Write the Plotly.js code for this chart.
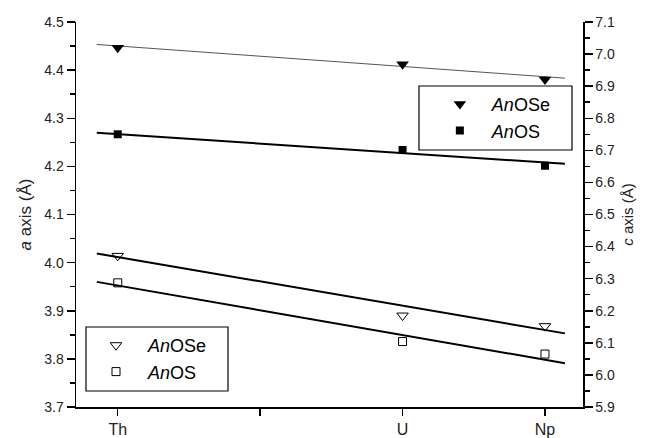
<!DOCTYPE html>
<html>
<head>
<meta charset="utf-8">
<script src="https://cdn.plot.ly/plotly-3.0.1.min.js"></script>
<style>html,body{margin:0;padding:0;background:#fff;}#chart{width:645px;height:438px;}</style>
</head>
<body>
<div id="chart"></div>
<script>
// element positions (atomic number) and tick labels
var tickPositions = [90, 91, 92, 93];
var tickLabels = ['Th', '', 'U', 'Np'];
var elementX = [90, 92, 93];

// c axis (Å) — filled symbols
var cAnOSe = [7.020, 6.968, 6.921];
var cAnOS = [6.750, 6.701, 6.652];
// a axis (Å) — open symbols
var aAnOSe = [4.014, 3.890, 3.868];
var aAnOS = [3.958, 3.836, 3.810];

// linear fit lines (end points)
var fitX = [89.853, 93.14];
var fitCAnOSe = [7.030, 6.925];
var fitCAnOS = [6.755, 6.658];
var fitAAnOSe = [4.019, 3.853];
var fitAAnOS = [3.960, 3.791];

var traces = [
  {x: fitX, y: fitCAnOSe, yaxis: 'y2', mode: 'lines', line: {color: '#555', width: 1}, showlegend: false, hoverinfo: 'skip'},
  {x: fitX, y: fitCAnOS, yaxis: 'y2', mode: 'lines', line: {color: '#000', width: 2}, showlegend: false, hoverinfo: 'skip'},
  {x: fitX, y: fitAAnOSe, yaxis: 'y', mode: 'lines', line: {color: '#000', width: 2}, showlegend: false, hoverinfo: 'skip'},
  {x: fitX, y: fitAAnOS, yaxis: 'y', mode: 'lines', line: {color: '#000', width: 2}, showlegend: false, hoverinfo: 'skip'},
  {x: elementX, y: cAnOSe, yaxis: 'y2', mode: 'markers', name: '<i>An</i>OSe', legend: 'legend',
   marker: {symbol: 'triangle-down', size: 11, color: '#000'}},
  {x: elementX, y: cAnOS, yaxis: 'y2', mode: 'markers', name: '<i>An</i>OS', legend: 'legend',
   marker: {symbol: 'square', size: 8, color: '#000'}},
  {x: elementX, y: aAnOSe, yaxis: 'y', mode: 'markers', name: '<i>An</i>OSe', legend: 'legend2',
   marker: {symbol: 'triangle-down-open', size: 10, color: '#000', line: {width: 1}}},
  {x: elementX, y: aAnOS, yaxis: 'y', mode: 'markers', name: '<i>An</i>OS', legend: 'legend2',
   marker: {symbol: 'square-open', size: 8, color: '#000', line: {width: 1}}}
];

var fontFam = 'Liberation Sans, Arial, sans-serif';
var yCommon = {
  showline: true, linecolor: '#000', linewidth: 1.5,
  ticks: 'outside', ticklen: 8, tickwidth: 1.5, tickcolor: '#000',
  minor: {dtick: 0.05, ticks: 'outside', ticklen: 5, tickwidth: 1.5, tickcolor: '#000'},
  dtick: 0.1, tickformat: '.1f', showgrid: false, zeroline: false,
  tickfont: {family: fontFam, size: 14, color: '#222'}
};

var layout = {
  width: 645, height: 438,
  margin: {l: 76, r: 62, t: 22, b: 31},
  paper_bgcolor: '#fff', plot_bgcolor: '#fff',
  font: {family: fontFam, color: '#000'},
  xaxis: {
    range: [89.707, 93.267], tickvals: tickPositions, ticktext: tickLabels,
    showline: true, linecolor: '#000', linewidth: 1.5,
    ticks: 'outside', ticklen: 7, tickwidth: 1.5, tickcolor: '#000',
    showgrid: false, zeroline: false,
    tickfont: {family: fontFam, size: 16, color: '#222'}
  },
  yaxis: Object.assign({}, yCommon, {
    range: [3.7, 4.5],
    title: {text: '<i>a</i> axis (Å)', font: {family: fontFam, size: 17, color: '#222'}, standoff: 8}
  }),
  yaxis2: Object.assign({}, yCommon, {
    range: [5.9, 7.1], overlaying: 'y', side: 'right',
    title: {text: '<i>c</i> axis (Å)', font: {family: fontFam, size: 15, color: '#222'}, standoff: 8}
  }),
  legend: {
    x: 0.694, xanchor: 'left', y: 0.834, yanchor: 'top',
    bgcolor: 'rgba(0,0,0,0)', borderwidth: 0, itemwidth: 54,
    font: {family: fontFam, size: 18, color: '#000'}
  },
  legend2: {
    x: 0.0158, xanchor: 'left', y: 0.2078, yanchor: 'top',
    bgcolor: 'rgba(0,0,0,0)', borderwidth: 0, itemwidth: 54,
    font: {family: fontFam, size: 18, color: '#000'}
  },
  shapes: [
    {type: 'rect', xref: 'paper', yref: 'paper', x0: 0.6765, x1: 0.9783, y0: 0.6675, y1: 0.8338, line: {color: '#000', width: 1.2}},
    {type: 'rect', xref: 'paper', yref: 'paper', x0: 0.0197, x1: 0.2998, y0: 0.0416, y1: 0.2078, line: {color: '#000', width: 1.2}}
  ],
  showlegend: true
};

Plotly.newPlot('chart', traces, layout, {displayModeBar: false, staticPlot: true});
</script>
</body>
</html>
